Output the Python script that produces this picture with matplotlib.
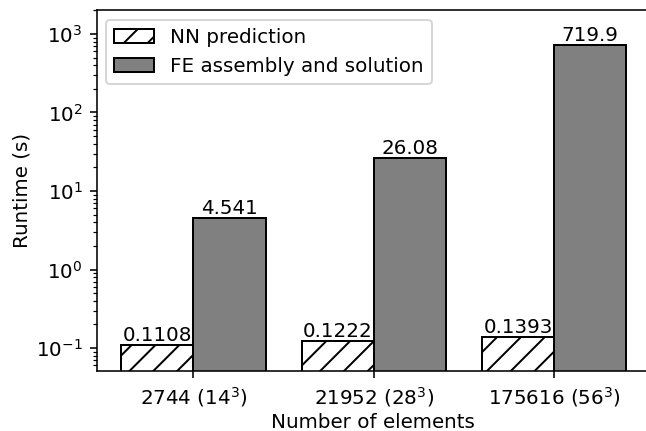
import numpy as np
import matplotlib
matplotlib.use('Agg')
import matplotlib.pyplot as plt

# runtimes per mesh size (seconds)
mesh_labels = [r'2744 ($14^3$)', r'21952 ($28^3$)', r'175616 ($56^3$)']
nn_times = [0.1108, 0.1222, 0.1393]
fe_times = [4.541, 26.08, 719.9]

dpi = 143
fig = plt.figure(figsize=(646 / dpi, 431 / dpi), dpi=dpi)
ax = fig.add_axes([0.1494, 0.1392, 0.8556, 0.8376])

x = np.arange(len(mesh_labels))
width = 0.4
nn_bars = ax.bar(x - width / 2, nn_times, width, color='white', edgecolor='black',
                 hatch='//', linewidth=1, label='NN prediction')
fe_bars = ax.bar(x + width / 2, fe_times, width, color='grey', edgecolor='black',
                 linewidth=1, label='FE assembly and solution')
ax.bar_label(nn_bars)
ax.bar_label(fe_bars)

ax.set_yscale('log')
ax.set_ylim(0.051, 2020)
ax.set_xlim(-0.538, 2.528)
ax.set_xticks(x)
ax.set_xticklabels(mesh_labels)
ax.set_xlabel('Number of elements', labelpad=2)
ax.set_ylabel('Runtime (s)', labelpad=2)
ax.legend(loc='upper left')

fig.savefig('out.png', dpi=dpi)
